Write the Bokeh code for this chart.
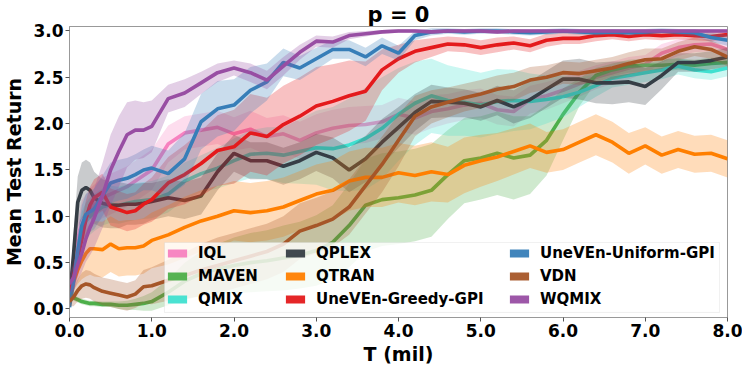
import numpy as np
from bokeh.plotting import figure
from bokeh.models import (Range1d, FixedTicker, PrintfTickFormatter, Legend,
                          LegendItem, BoxAnnotation)
from bokeh.embed import file_html
from bokeh.resources import INLINE

# time in millions of steps
T = [0.0, 0.05, 0.1, 0.15, 0.2, 0.25, 0.3, 0.4, 0.5, 0.6, 0.7, 0.8, 0.9,
     1.0, 1.2, 1.4, 1.6, 1.8, 2.0, 2.2, 2.4, 2.6, 2.8, 3.0, 3.2, 3.4, 3.6, 3.8,
     4.0, 4.2, 4.4, 4.6, 4.8, 5.0, 5.2, 5.4, 5.6, 5.8, 6.0, 6.2, 6.4, 6.6, 6.8,
     7.0, 7.2, 7.4, 7.6, 7.8, 8.0]

XTICKS = [0, 1, 2, 3, 4, 5, 6, 7, 8]
YTICKS = [0.0, 0.5, 1.0, 1.5, 2.0, 2.5, 3.0]

names = ["IQL", "MAVEN", "QMIX", "QPLEX", "QTRAN", "UneVEn-Greedy-GPI",
         "UneVEn-Uniform-GPI", "VDN", "WQMIX"]

iql_mean = [0.18, 0.45, 0.75, 0.95, 1.02, 1.08, 1.12, 1.20, 1.24, 1.28, 1.32, 1.38, 1.44,
            1.50, 1.78, 1.90, 1.93, 1.96, 1.89, 1.94, 1.86, 1.89, 1.82, 1.90, 1.95, 1.98, 1.99, 2.02,
            2.10, 2.06, 2.13, 2.16, 2.20, 2.22, 2.15, 2.13, 2.26, 2.30, 2.36, 2.43, 2.50, 2.55, 2.60,
            2.64, 2.76, 2.82, 2.85, 2.86, 2.80]
iql_std = [0.10, 0.15, 0.20, 0.22, 0.22, 0.22, 0.22, 0.22, 0.22, 0.22, 0.22, 0.22, 0.22,
           0.22, 0.20, 0.18, 0.18, 0.18, 0.18, 0.20, 0.20, 0.20, 0.20, 0.20, 0.20, 0.20, 0.20, 0.18,
           0.18, 0.18, 0.18, 0.16, 0.16, 0.16, 0.16, 0.16, 0.15, 0.15, 0.14, 0.14, 0.13, 0.12, 0.12,
           0.10, 0.10, 0.09, 0.08, 0.08, 0.08]

maven_mean = [0.13, 0.12, 0.10, 0.08, 0.07, 0.06, 0.06, 0.05, 0.05, 0.04, 0.04, 0.05, 0.06,
              0.08, 0.18, 0.30, 0.38, 0.43, 0.47, 0.50, 0.52, 0.55, 0.58, 0.63, 0.72, 0.90, 1.12, 1.18,
              1.20, 1.23, 1.28, 1.45, 1.60, 1.63, 1.68, 1.63, 1.66, 1.82, 2.10, 2.34, 2.52, 2.58, 2.62,
              2.63, 2.63, 2.64, 2.63, 2.65, 2.66]
maven_std = [0.03, 0.03, 0.03, 0.03, 0.03, 0.03, 0.03, 0.03, 0.03, 0.04, 0.05, 0.06, 0.08,
             0.10, 0.14, 0.20, 0.24, 0.27, 0.30, 0.32, 0.33, 0.35, 0.36, 0.38, 0.40, 0.45, 0.50, 0.50,
             0.50, 0.50, 0.50, 0.48, 0.46, 0.45, 0.45, 0.45, 0.42, 0.38, 0.28, 0.15, 0.08, 0.07, 0.07,
             0.07, 0.07, 0.06, 0.06, 0.06, 0.06]

qmix_mean = [0.10, 0.35, 0.60, 0.85, 0.95, 1.00, 1.04, 1.10, 1.13, 1.12, 1.14, 1.16, 1.17,
             1.18, 1.24, 1.38, 1.46, 1.52, 1.60, 1.67, 1.68, 1.66, 1.70, 1.74, 1.73, 1.77, 1.84, 1.95,
             2.10, 2.22, 2.30, 2.25, 2.23, 2.20, 2.24, 2.25, 2.24, 2.26, 2.29, 2.34, 2.41, 2.49, 2.52,
             2.55, 2.58, 2.62, 2.58, 2.56, 2.60]
qmix_std = [0.05, 0.12, 0.18, 0.20, 0.20, 0.20, 0.20, 0.20, 0.20, 0.20, 0.20, 0.20, 0.20,
            0.20, 0.20, 0.20, 0.20, 0.22, 0.24, 0.26, 0.28, 0.30, 0.35, 0.40, 0.45, 0.50, 0.55, 0.55,
            0.50, 0.45, 0.40, 0.38, 0.36, 0.35, 0.35, 0.33, 0.30, 0.26, 0.22, 0.16, 0.12, 0.10, 0.10,
            0.10, 0.10, 0.09, 0.09, 0.09, 0.09]

qplex_mean = [0.10, 0.60, 1.15, 1.28, 1.31, 1.28, 1.20, 1.14, 1.12, 1.12, 1.13, 1.13, 1.14,
              1.16, 1.20, 1.17, 1.22, 1.48, 1.68, 1.60, 1.60, 1.54, 1.60, 1.69, 1.63, 1.50, 1.62, 1.80,
              1.96, 2.12, 2.24, 2.23, 2.22, 2.18, 2.25, 2.18, 2.26, 2.37, 2.48, 2.48, 2.44, 2.44, 2.45,
              2.40, 2.52, 2.66, 2.66, 2.68, 2.72]
qplex_std = [0.05, 0.22, 0.28, 0.30, 0.30, 0.30, 0.28, 0.26, 0.25, 0.25, 0.22, 0.22, 0.22,
             0.20, 0.20, 0.20, 0.20, 0.20, 0.20, 0.20, 0.20, 0.20, 0.20, 0.20, 0.22, 0.24, 0.25, 0.25,
             0.22, 0.20, 0.18, 0.16, 0.15, 0.15, 0.16, 0.18, 0.20, 0.20, 0.20, 0.22, 0.22, 0.23, 0.22,
             0.20, 0.15, 0.10, 0.10, 0.10, 0.10]

qtran_mean = [0.15, 0.30, 0.42, 0.52, 0.60, 0.65, 0.65, 0.64, 0.70, 0.65, 0.66, 0.66, 0.68,
              0.74, 0.80, 0.88, 0.95, 1.00, 1.06, 1.04, 1.06, 1.10, 1.17, 1.24, 1.28, 1.38, 1.42, 1.42,
              1.47, 1.44, 1.48, 1.45, 1.55, 1.60, 1.64, 1.70, 1.76, 1.69, 1.72, 1.80, 1.88, 1.80, 1.68,
              1.76, 1.66, 1.72, 1.67, 1.68, 1.62]
qtran_std = [0.05, 0.10, 0.15, 0.20, 0.25, 0.28, 0.30, 0.30, 0.30, 0.30, 0.30, 0.30, 0.30,
             0.30, 0.32, 0.33, 0.33, 0.33, 0.32, 0.32, 0.32, 0.32, 0.32, 0.32, 0.32, 0.32, 0.32, 0.32,
             0.32, 0.32, 0.32, 0.30, 0.30, 0.28, 0.26, 0.25, 0.24, 0.22, 0.22, 0.22, 0.22, 0.22, 0.22,
             0.20, 0.20, 0.20, 0.20, 0.20, 0.20]

greedy_mean = [0.15, 0.35, 0.55, 0.75, 0.97, 1.12, 1.20, 1.26, 1.10, 1.07, 1.04, 1.06, 1.13,
               1.18, 1.36, 1.45, 1.57, 1.71, 1.75, 1.90, 1.86, 1.99, 2.08, 2.19, 2.24, 2.30, 2.35, 2.58,
               2.70, 2.78, 2.82, 2.86, 2.85, 2.82, 2.85, 2.87, 2.84, 2.90, 2.92, 2.92, 2.95, 2.96, 2.94,
               2.96, 2.95, 2.96, 2.95, 2.94, 2.96]
greedy_std = [0.05, 0.15, 0.20, 0.20, 0.20, 0.20, 0.20, 0.20, 0.20, 0.20, 0.20, 0.20, 0.22,
              0.24, 0.28, 0.32, 0.35, 0.38, 0.40, 0.42, 0.42, 0.42, 0.42, 0.42, 0.40, 0.38, 0.32, 0.22,
              0.15, 0.12, 0.10, 0.08, 0.08, 0.08, 0.08, 0.07, 0.07, 0.07, 0.06, 0.06, 0.06, 0.05, 0.05,
              0.05, 0.05, 0.05, 0.05, 0.05, 0.05]

uniform_mean = [0.02, 0.30, 0.62, 0.90, 1.02, 1.05, 1.08, 1.22, 1.36, 1.39, 1.41, 1.45, 1.50,
                1.52, 1.46, 1.62, 2.02, 2.16, 2.20, 2.36, 2.45, 2.66, 2.60, 2.70, 2.80, 2.80, 2.72, 2.84,
                2.76, 2.95, 2.99, 3.00, 2.99, 3.00, 3.00, 2.99, 2.98, 2.99, 3.00, 2.99, 2.98, 2.99, 2.98,
                2.99, 3.00, 2.99, 2.98, 2.93, 2.90]
uniform_std = [0.03, 0.15, 0.20, 0.22, 0.22, 0.22, 0.22, 0.22, 0.22, 0.22, 0.22, 0.22, 0.22,
               0.24, 0.25, 0.28, 0.30, 0.30, 0.28, 0.25, 0.20, 0.15, 0.13, 0.12, 0.10, 0.10, 0.10, 0.09,
               0.08, 0.05, 0.04, 0.03, 0.03, 0.03, 0.03, 0.03, 0.03, 0.03, 0.03, 0.03, 0.03, 0.03, 0.03,
               0.03, 0.03, 0.03, 0.04, 0.05, 0.06]

vdn_mean = [0.08, 0.13, 0.20, 0.25, 0.27, 0.26, 0.23, 0.19, 0.17, 0.15, 0.13, 0.16, 0.24,
            0.25, 0.31, 0.36, 0.42, 0.47, 0.52, 0.57, 0.62, 0.70, 0.84, 0.90, 0.97, 1.10, 1.33, 1.56,
            1.82, 2.08, 2.18, 2.23, 2.28, 2.32, 2.37, 2.40, 2.47, 2.50, 2.55, 2.54, 2.57, 2.60, 2.65,
            2.69, 2.70, 2.78, 2.83, 2.80, 2.72]
vdn_std = [0.05, 0.10, 0.12, 0.14, 0.15, 0.15, 0.15, 0.15, 0.15, 0.15, 0.15, 0.15, 0.18,
           0.20, 0.22, 0.25, 0.28, 0.30, 0.30, 0.30, 0.30, 0.30, 0.30, 0.30, 0.30, 0.30, 0.30, 0.30,
           0.28, 0.22, 0.18, 0.16, 0.15, 0.15, 0.15, 0.15, 0.14, 0.13, 0.12, 0.12, 0.12, 0.12, 0.12,
           0.12, 0.11, 0.10, 0.10, 0.10, 0.10]

wqmix_mean = [0.27, 0.34, 0.48, 0.60, 0.76, 0.88, 0.98, 1.22, 1.50, 1.70, 1.88, 1.93, 1.93,
              1.97, 2.27, 2.33, 2.44, 2.55, 2.60, 2.55, 2.47, 2.62, 2.77, 2.89, 2.88, 2.95, 2.97, 2.99,
              3.00, 3.00, 2.99, 3.00, 3.00, 3.00, 2.99, 3.00, 3.00, 3.00, 3.00, 3.00, 3.00, 3.00, 3.00,
              3.00, 3.00, 3.00, 3.00, 3.00, 3.00]
wqmix_std = [0.10, 0.15, 0.18, 0.20, 0.25, 0.30, 0.32, 0.35, 0.38, 0.38, 0.35, 0.32, 0.30,
             0.28, 0.15, 0.15, 0.12, 0.10, 0.08, 0.10, 0.10, 0.10, 0.08, 0.06, 0.06, 0.04, 0.03, 0.02,
             0.02, 0.02, 0.02, 0.02, 0.02, 0.02, 0.02, 0.02, 0.02, 0.02, 0.02, 0.02, 0.02, 0.02, 0.02,
             0.02, 0.02, 0.02, 0.02, 0.02, 0.02]

colors = ["#f781bf", "#4daf4a", "#40e0d0", "#363e46", "#ff7f00", "#e41a1c",
          "#377eb8", "#a65628", "#984ea3"]
means = [iql_mean, maven_mean, qmix_mean, qplex_mean, qtran_mean, greedy_mean,
         uniform_mean, vdn_mean, wqmix_mean]
stds = [iql_std, maven_std, qmix_std, qplex_std, qtran_std, greedy_std,
        uniform_std, vdn_std, wqmix_std]

FONT = "DejaVu Sans"

p = figure(frame_width=658, frame_height=291, output_backend="svg",
           toolbar_location=None,
           x_range=Range1d(0, 8), y_range=Range1d(-0.092, 3.048),
           min_border_left=68, min_border_right=15, min_border_top=26,
           min_border_bottom=48)

p.title.text = "p = 0"
p.title.align = "center"
p.title.text_font = FONT
p.title.text_font_style = "bold"
p.title.text_font_size = "21px"
p.title.text_color = "black"
p.title.standoff = 0
p.title.offset = 0

t = np.array(T)
legend_renderers = []
for name, c, m, s in zip(names, colors, means, stds):
    m = np.array(m)
    s = np.array(s)
    p.varea(x=t, y1=m - s, y2=m + s, fill_color=c, fill_alpha=0.27)
    p.line(t, m, line_color=c, line_width=3.6)

nan = float("nan")
for name, c in zip(names, colors):
    r = p.quad(left=[nan], right=[nan], top=[nan], bottom=[nan], fill_color=c,
               fill_alpha=0.95, line_color=None)
    legend_renderers.append(r)

# legend frame
box = BoxAnnotation(left=1.155, right=7.903, bottom=-0.038, top=0.717,
                    fill_color="white", fill_alpha=0.8,
                    line_color="#cccccc", line_width=1)
p.add_layout(box)

col_x = [96, 214, 438]
for ci in range(3):
    items = [LegendItem(label=names[k], renderers=[legend_renderers[k]])
             for k in range(ci * 3, ci * 3 + 3)]
    leg = Legend(items=items, location=(col_x[ci], 9), orientation="vertical",
                 padding=0, margin=0, spacing=5, glyph_width=24, glyph_height=10,
                 label_height=17, label_standoff=9,
                 label_text_font=FONT, label_text_font_style="bold",
                 label_text_font_size="15px", label_text_color="black",
                 background_fill_alpha=0, border_line_color=None)
    p.add_layout(leg)

p.xaxis.ticker = FixedTicker(ticks=XTICKS)
p.yaxis.ticker = FixedTicker(ticks=YTICKS)
p.xaxis.formatter = PrintfTickFormatter(format="%.1f")
p.yaxis.formatter = PrintfTickFormatter(format="%.1f")
p.xaxis.axis_label = "T (mil)"
p.yaxis.axis_label = "Mean Test Return"
for ax in (p.xaxis, p.yaxis):
    ax.major_label_text_font = FONT
    ax.major_label_text_font_style = "bold"
    ax.major_label_text_font_size = "17px"
    ax.major_label_text_color = "black"
    ax.axis_label_text_font = FONT
    ax.axis_label_text_font_style = "bold"
    ax.axis_label_text_font_size = "19px"
    ax.axis_label_text_color = "black"
    ax.axis_line_color = "#999999"
    ax.major_tick_line_color = "#555555"
    ax.major_tick_out = 4
    ax.major_tick_in = 0
    ax.minor_tick_line_color = None
    ax.major_label_standoff = 2
p.xaxis.axis_label_standoff = 3
p.yaxis.axis_label_standoff = 5

p.xgrid.visible = False
p.ygrid.visible = False
p.outline_line_color = "#999999"
p.background_fill_color = "white"
p.border_fill_color = "white"

open("out.html", "w").write(file_html(p, INLINE))
